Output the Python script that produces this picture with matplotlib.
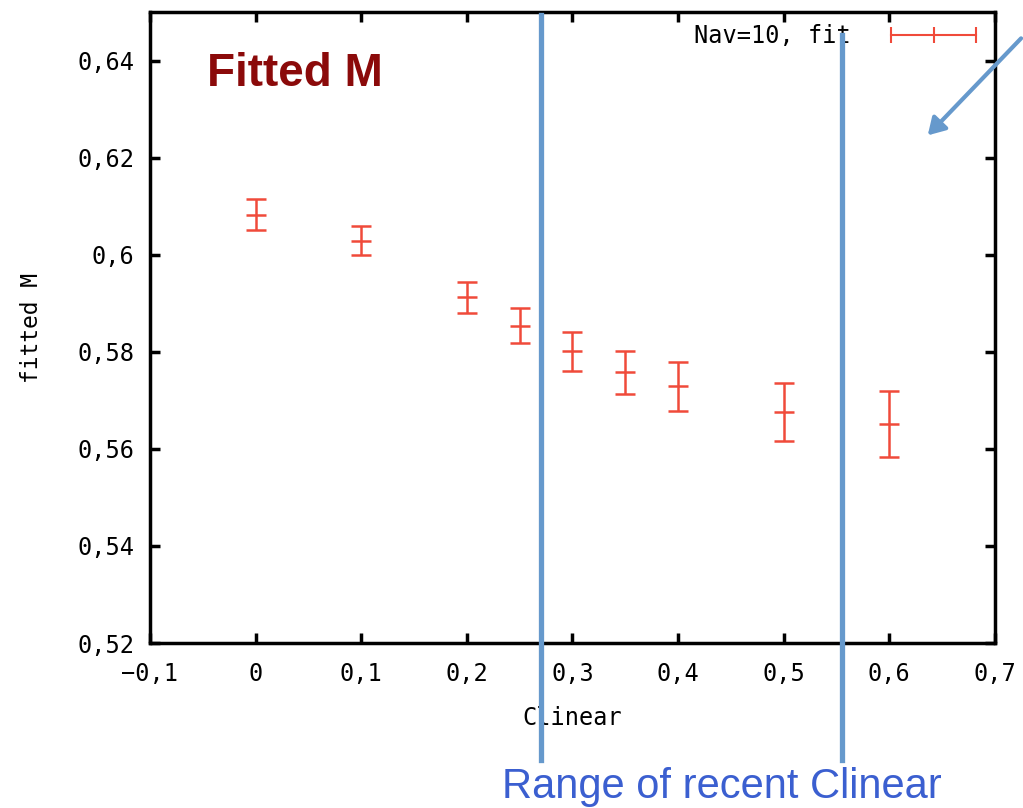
import matplotlib
matplotlib.use("Agg")
import matplotlib.pyplot as plt
from matplotlib.lines import Line2D
from matplotlib.patches import FancyArrowPatch

# data
clinear = [0.0, 0.1, 0.2, 0.25, 0.3, 0.35, 0.4, 0.5, 0.6]
fitted_m = [0.6082, 0.6029, 0.5912, 0.5854, 0.5801, 0.5758, 0.5729, 0.5676, 0.5651]
fitted_err = [0.0032, 0.0030, 0.0032, 0.0036, 0.0040, 0.0044, 0.0050, 0.0060, 0.0068]
xticks = [-0.1, 0, 0.1, 0.2, 0.3, 0.4, 0.5, 0.6, 0.7]
yticks = [0.52, 0.54, 0.56, 0.58, 0.60, 0.62, 0.64]
range_lines = [0.27, 0.555]  # approximate Clinear positions of the blue markers


def comma(v):
    s = "%g" % round(v, 3)
    return s.replace(".", ",").replace("-", "\u2212")


mono = "DejaVu Sans Mono"
red = "#f04a3a"
blue = "#6699cc"

fig = plt.figure(figsize=(10.23, 8.08), dpi=100)
ax = fig.add_axes([0.1466, 0.2042, 0.8260, 0.7809])

ax.errorbar(clinear, fitted_m, yerr=fitted_err, fmt="none", ecolor=red,
            elinewidth=1.8, capsize=7, capthick=1.8)
ax.plot(clinear, fitted_m, linestyle="none", marker="_", markersize=15,
        markeredgewidth=1.8, color=red)

ax.set_xlim(-0.1, 0.7)
ax.set_ylim(0.52, 0.65)
ax.set_xticks(xticks)
ax.set_xticklabels([comma(v) for v in xticks], family=mono, fontsize=17)
ax.set_yticks(yticks)
ax.set_yticklabels([comma(v) for v in yticks], family=mono, fontsize=17)
ax.tick_params(direction="in", length=7, width=2.5, top=True, right=True, pad=14)
ax.tick_params(axis="y", pad=11)
for sp in ax.spines.values():
    sp.set_linewidth(2.5)

ax.set_xlabel("Clinear", family=mono, fontsize=17, labelpad=14)
ax.set_ylabel("fitted M", family=mono, fontsize=16.5, labelpad=25)

handle = Line2D([], [], color=red, marker="|", markersize=12, markeredgewidth=1.5,
                linewidth=1.5)
leg = ax.legend([handle], ["Nav=10, fit"], loc="upper right", frameon=False,
                prop={"family": mono, "size": 17}, handlelength=4.2,
                numpoints=3, markerfirst=False, borderaxespad=0.1,
                handletextpad=1.4)

# annotations on top of the figure
fig.text(0.202, 0.909, "Fitted M", color="#8b0a0a", fontsize=33,
         fontweight="bold", family="Liberation Sans", va="center")
fig.text(0.706, 0.026, "Range of recent Clinear", color="#3b5fd0", fontsize=30,
         family="Liberation Sans", ha="center", va="center")

for xv in range_lines:
    xf = fig.transFigure.inverted().transform(ax.transData.transform((xv, 0.6)))[0]
    top = 0.982 if xv < 0.4 else 0.957
    fig.add_artist(Line2D([xf, xf], [0.06, top], color=blue, linewidth=3.8,
                          transform=fig.transFigure))

arrow = FancyArrowPatch((1.0, 0.955), (0.905, 0.83), transform=fig.transFigure,
                        arrowstyle="-|>,head_length=10,head_width=6",
                        color=blue, linewidth=3)
fig.add_artist(arrow)

fig.savefig("out.png", dpi=100)
